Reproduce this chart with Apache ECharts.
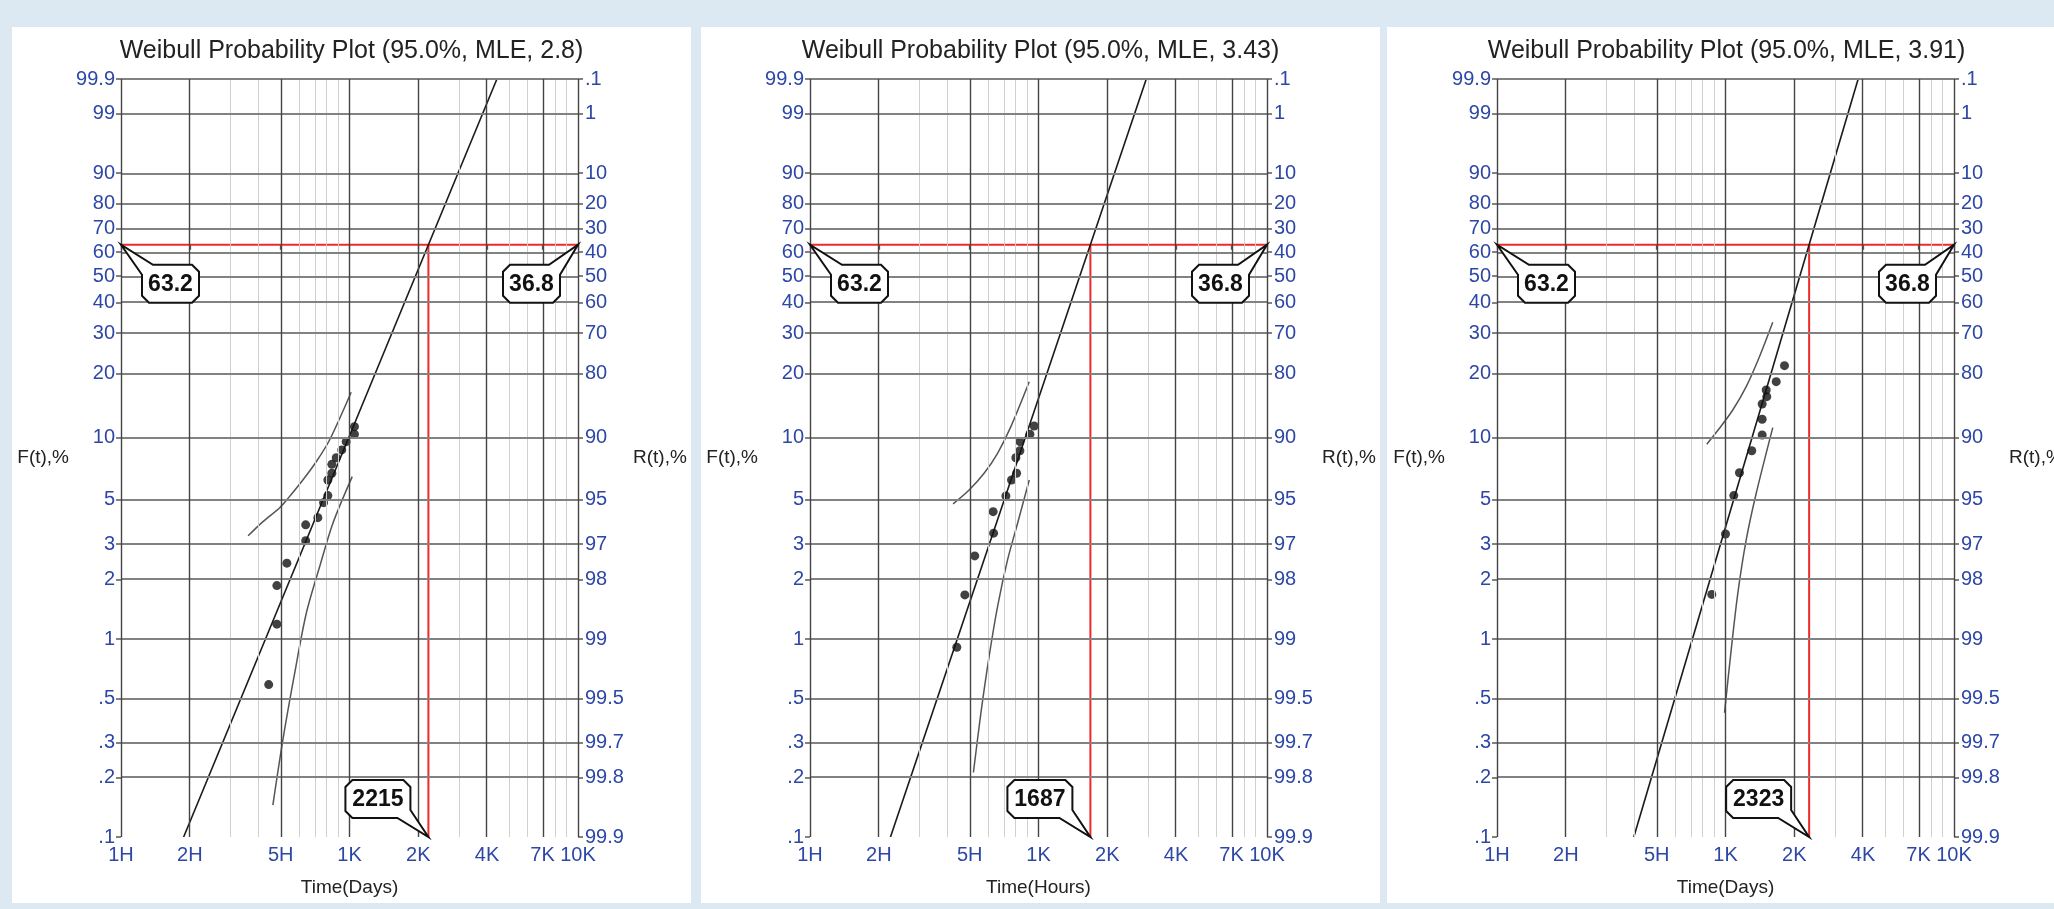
<!DOCTYPE html>
<html>
<head>
<meta charset="utf-8">
<title>Weibull Probability Plots</title>
<script src="https://cdn.jsdelivr.net/npm/echarts@6/dist/echarts.min.js"></script>
<style>
  html, body { margin: 0; padding: 0; width: 2054px; height: 909px; overflow: hidden; background: #dce8f2; }
  .panel { position: absolute; top: 27px; width: 679px; height: 876px; background: #fff; }
</style>
</head>
<body>
<div class="panel" id="chart-1" style="left:12px"></div>
<div class="panel" id="chart-2" style="left:701px"></div>
<div class="panel" id="chart-3" style="left:1387px"></div>
<script>
// axis ticks
const fTicks = [0.1, 0.2, 0.3, 0.5, 1, 2, 3, 5, 10, 20, 30, 40, 50, 60, 70, 80, 90, 99, 99.9];
const fTickLabels = ['.1', '.2', '.3', '.5', '1', '2', '3', '5', '10', '20', '30', '40', '50', '60', '70', '80', '90', '99', '99.9'];
const rTickLabels = ['99.9', '99.8', '99.7', '99.5', '99', '98', '97', '95', '90', '80', '70', '60', '50', '40', '30', '20', '10', '1', '.1'];
const timeTicks = [100, 200, 500, 1000, 2000, 4000, 7000, 10000];
const timeTickLabels = ['1H', '2H', '5H', '1K', '2K', '4K', '7K', '10K'];
const timeMinorTicks = [300, 400, 600, 700, 800, 900, 3000, 5000, 6000, 8000, 9000];
const charLifeF = 63.2;

// left panel : [time, F%]
const title1 = 'Weibull Probability Plot (95.0%, MLE, 2.8)';
const xName1 = 'Time(Days)';
const eta1 = 2215;
const points1 = [[1051, 11.29], [1051, 10.38], [967, 9.57], [925, 8.73], [875, 8.0], [837, 7.43], [837, 6.72], [804, 6.23], [804, 5.22], [770, 4.82], [727, 4.06], [643, 3.74], [643, 3.12], [532, 2.41], [481, 1.86], [481, 1.19], [443, 0.59]];
const upper1 = [[360, 3.30], [418, 3.88], [495, 4.55], [538, 5.06], [625, 6.23], [715, 7.65], [818, 9.75], [1017, 16.4]];
const lower1 = [[462, 0.145], [511, 0.31], [575, 0.67], [647, 1.35], [740, 2.31], [846, 3.81], [1028, 6.47]];
const fit1 = [[188, 0.1], [4418, 99.9]];

// middle panel
const title2 = 'Weibull Probability Plot (95.0%, MLE, 3.43)';
const xName2 = 'Time(Hours)';
const eta2 = 1687;
const points2 = [[957, 11.38], [917, 10.38], [829, 9.57], [829, 8.65], [796, 8.0], [802, 6.72], [762, 6.23], [720, 5.20], [633, 4.35], [636, 3.40], [526, 2.62], [476, 1.67], [439, 0.91]];
const upper2 = [[423, 4.75], [497, 5.56], [578, 6.72], [662, 8.41], [757, 11.29], [911, 18.3]];
const lower2 = [[519, 0.212], [559, 0.42], [608, 0.82], [662, 1.46], [732, 2.50], [810, 3.81], [911, 6.23]];
const fit2 = [[225, 0.1], [2963, 99.9]];

// right panel
const title3 = 'Weibull Probability Plot (95.0%, MLE, 3.91)';
const xName3 = 'Time(Days)';
const eta3 = 2323;
const points3 = [[1812, 21.65], [1667, 18.33], [1507, 16.79], [1516, 15.63], [1447, 14.45], [1447, 12.24], [1447, 10.30], [1303, 8.65], [1151, 6.76], [1087, 5.22], [1000, 3.37], [871, 1.68]];
const upper3 = [[828, 9.30], [941, 11.09], [1076, 13.54], [1232, 17.39], [1408, 23.74], [1610, 33.3]];
const lower3 = [[990, 0.425], [1059, 0.883], [1132, 1.70], [1232, 3.15], [1363, 5.36], [1610, 11.17]];
const fit3 = [[397, 0.1], [3807, 99.9]];

// weibull probability scale and log time scale
const wb = f => Math.log(-Math.log(1 - f / 100));
const lg = t => Math.log10(t);
const toXY = d => [lg(d[0]), wb(d[1])];

const FONT = '"Liberation Sans", Arial, Helvetica, sans-serif';
const BLUE = '#2d47a6';
const RED = '#ee2a2a';

function pickLabel(vals, labels) {
  return function (v) {
    const i = vals.findIndex(x => Math.abs(x - v) < 1e-6);
    return i < 0 ? '' : labels[i];
  };
}

function makeOption(title, xName, eta, points, upper, lower, fit, gridLeft) {
  const yVals = fTicks.map(wb);
  const xVals = timeTicks.map(lg);
  const calloutTexts = [charLifeF.toFixed(1), (100 - charLifeF).toFixed(1), String(eta)];

  const gridLines = []
    .concat(timeMinorTicks.map(v => ({ xAxis: lg(v), lineStyle: { color: '#d0d0d0', width: 1, type: 'solid' } })))
    .concat(yVals.map(v => ({ yAxis: v, lineStyle: { color: '#828282', width: 2, type: 'solid' } })))
    .concat(xVals.map(v => ({ xAxis: v, lineStyle: { color: '#444', width: 1.4, type: 'solid' } })));

  return {
    animation: false,
    textStyle: { fontFamily: FONT },
    title: {
      text: title,
      left: 'center',
      top: 7,
      textStyle: { color: '#222', fontSize: 25, fontWeight: 'normal', fontFamily: FONT }
    },
    grid: { left: gridLeft, top: 52, width: 457, height: 758, outerBoundsMode: 'none' },
    xAxis: {
      type: 'value',
      min: lg(100),
      max: lg(10000),
      name: xName,
      nameLocation: 'middle',
      nameGap: 41,
      nameTextStyle: { color: '#222', fontSize: 19, fontFamily: FONT },
      axisLine: { show: false },
      splitLine: { show: false },
      axisTick: { show: true, length: 5, customValues: xVals, lineStyle: { color: '#555', width: 1.3 } },
      axisLabel: { customValues: xVals, formatter: pickLabel(xVals, timeTickLabels), color: BLUE, fontSize: 20, margin: 8, fontFamily: FONT }
    },
    yAxis: [
      {
        type: 'value',
        position: 'left',
        min: wb(0.1),
        max: wb(99.9),
        name: 'F(t),%',
        nameLocation: 'middle',
        nameRotate: 0,
        nameGap: 52,
        nameTextStyle: { color: '#222', fontSize: 19, fontFamily: FONT },
        axisLine: { show: false },
        splitLine: { show: false },
        axisTick: { show: true, length: 5, customValues: yVals, lineStyle: { color: '#828282', width: 2 } },
        axisLabel: { customValues: yVals, formatter: pickLabel(yVals, fTickLabels), color: BLUE, fontSize: 20, margin: 6, fontFamily: FONT }
      },
      {
        type: 'value',
        position: 'right',
        min: wb(0.1),
        max: wb(99.9),
        name: 'R(t),%',
        nameLocation: 'middle',
        nameRotate: 0,
        nameGap: 55,
        nameTextStyle: { color: '#222', fontSize: 19, fontFamily: FONT },
        axisLine: { show: false },
        splitLine: { show: false },
        axisTick: { show: true, length: 5, customValues: yVals, lineStyle: { color: '#828282', width: 2 } },
        axisLabel: { customValues: yVals, formatter: pickLabel(yVals, rTickLabels), color: BLUE, fontSize: 20, margin: 7, fontFamily: FONT }
      }
    ],
    series: [
      // grid lines
      {
        type: 'line',
        data: [],
        z: 1,
        silent: true,
        markLine: { silent: true, symbol: 'none', label: { show: false }, emphasis: { disabled: true }, data: gridLines }
      },
      // 63.2% reference
      {
        type: 'line',
        z: 2,
        silent: true,
        symbol: 'none',
        lineStyle: { color: RED, width: 2 },
        data: [[lg(100), wb(charLifeF)], [lg(10000), wb(charLifeF)]]
      },
      {
        type: 'line',
        z: 2,
        silent: true,
        symbol: 'none',
        lineStyle: { color: RED, width: 2 },
        data: [[lg(eta), wb(charLifeF)], [lg(eta), wb(0.1)]]
      },
      // fitted line
      {
        type: 'line',
        z: 3,
        silent: true,
        symbol: 'none',
        lineStyle: { color: '#1a1a1a', width: 1.6 },
        data: fit.map(toXY)
      },
      // confidence bounds
      {
        type: 'line',
        z: 3,
        silent: true,
        symbol: 'none',
        smooth: 0.3,
        lineStyle: { color: '#555', width: 1.5 },
        data: upper.map(toXY)
      },
      {
        type: 'line',
        z: 3,
        silent: true,
        symbol: 'none',
        smooth: 0.3,
        lineStyle: { color: '#555', width: 1.5 },
        data: lower.map(toXY)
      },
      // failures
      {
        type: 'scatter',
        z: 4,
        silent: true,
        symbolSize: 9,
        itemStyle: { color: '#111' },
        data: points.map(toXY)
      },
      // callouts
      {
        type: 'custom',
        z: 10,
        silent: true,
        clip: false,
        data: [[lg(100), wb(charLifeF), 0], [lg(10000), wb(charLifeF), 1], [lg(eta), wb(0.1), 2]],
        renderItem: function (params, api) {
          const a = api.coord([api.value(0), api.value(1)]);
          const kind = api.value(2);
          const w = kind === 2 ? 65 : 57, h = 38, c = 7;
          let x0, y0, pts;
          if (kind === 0) { x0 = a[0] + 21; y0 = a[1] + 20; }
          else if (kind === 1) { x0 = a[0] - 18 - w; y0 = a[1] + 20; }
          else { x0 = a[0] - 18 - w; y0 = a[1] - 19 - h; }
          const x1 = x0 + w, y1 = y0 + h;
          if (kind === 0) {
            pts = [[x0 + 11, y0], [x1 - c, y0], [x1, y0 + c], [x1, y1 - c], [x1 - c, y1], [x0 + c, y1], [x0, y1 - c], [x0, y0 + 10], a];
          } else if (kind === 1) {
            pts = [[x0 + c, y0], [x1 - 11, y0], a, [x1, y0 + 10], [x1, y1 - c], [x1 - c, y1], [x0 + c, y1], [x0, y1 - c], [x0, y0 + c]];
          } else {
            pts = [[x0 + c, y0], [x1 - c, y0], [x1, y0 + c], [x1, y1 - 8], a, [x1 - 13, y1], [x0 + c, y1], [x0, y1 - c], [x0, y0 + c]];
          }
          return {
            type: 'group',
            children: [
              { type: 'polygon', shape: { points: pts }, style: { fill: '#fff', stroke: '#111', lineWidth: 2 } },
              {
                type: 'text',
                style: {
                  text: calloutTexts[params.dataIndex],
                  x: (x0 + x1) / 2,
                  y: (y0 + y1) / 2 + 1,
                  align: 'center',
                  verticalAlign: 'middle',
                  textAlign: 'center',
                  textVerticalAlign: 'middle',
                  fill: '#111',
                  font: 'bold 23px ' + FONT
                }
              }
            ]
          };
        }
      }
    ]
  };
}

/**
 * left
 */
let chart1 = echarts.init(document.getElementById('chart-1'));
chart1.setOption(makeOption(title1, xName1, eta1, points1, upper1, lower1, fit1, 109));

/**
 * middle
 */
let chart2 = echarts.init(document.getElementById('chart-2'));
chart2.setOption(makeOption(title2, xName2, eta2, points2, upper2, lower2, fit2, 109));

/**
 * right
 */
let chart3 = echarts.init(document.getElementById('chart-3'));
chart3.setOption(makeOption(title3, xName3, eta3, points3, upper3, lower3, fit3, 110));
</script>
</body>
</html>
